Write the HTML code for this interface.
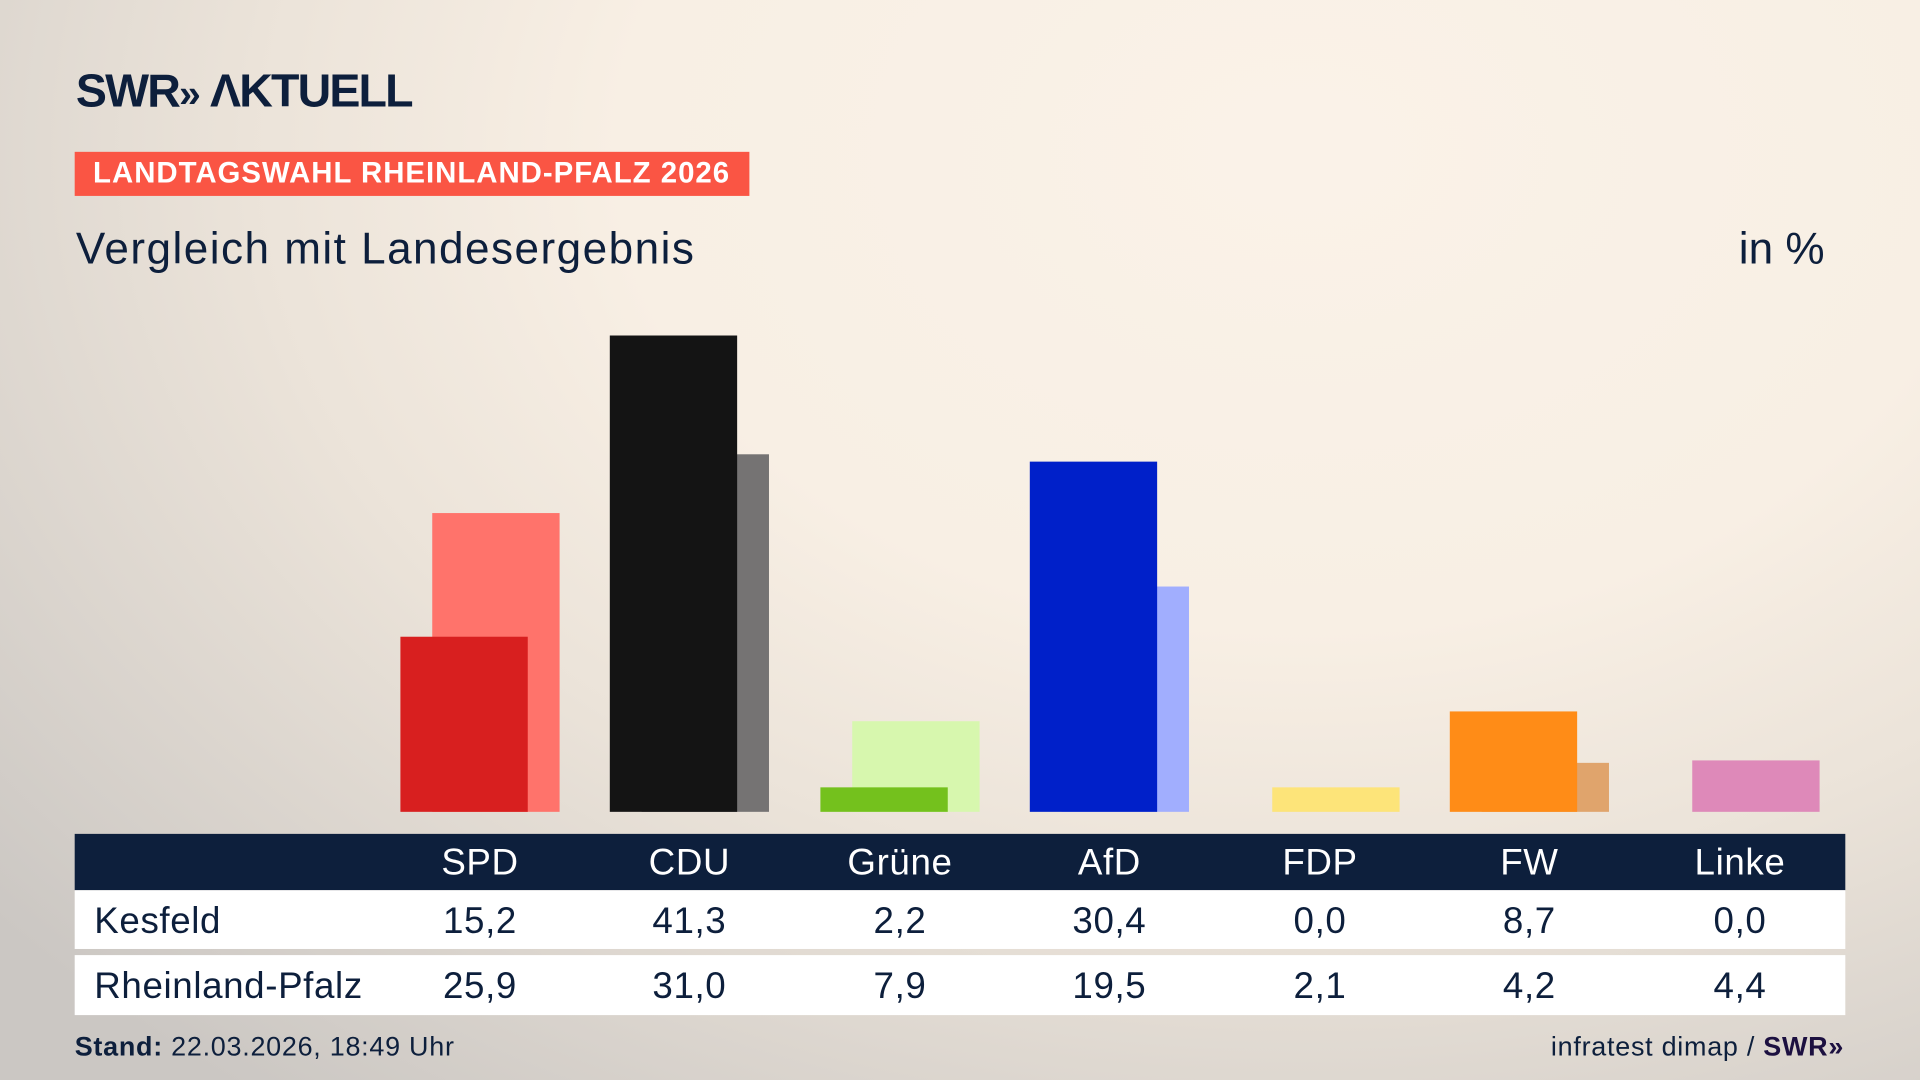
<!DOCTYPE html>
<html><head><meta charset="utf-8">
<style>
html,body{margin:0;padding:0;width:1920px;height:1080px;overflow:hidden}
body{background:#f8efe4}
#bg{position:absolute;left:0;top:0;width:1920px;height:1080px;
background:radial-gradient(ellipse 1700px 1200px at 1300px 150px,#faf2e8 0%,#f8efe4 40%,#ebe3d9 62%,#cbc7c3 100%);}
#s{position:absolute;left:0;top:0;width:1568px;height:882px;transform:scale(1.22449);transform-origin:0 0;font-family:"Liberation Sans","DejaVu Sans",sans-serif;color:#0d1f3c}
.b{position:absolute;width:104px}
.t{position:absolute}
.row{position:absolute;left:61px;width:1446px;background:#fff}
.c{position:absolute;width:140px;text-align:center;font-size:30px;margin-left:-70px;letter-spacing:0.5px}
</style></head><body>
<div id="bg"></div>
<div id="s">
<div class="t" style="left:62px;top:54px;font-size:38px;font-weight:bold;letter-spacing:-1.5px">SWR<span style="font-size:32px">»</span> ΛKTUELL</div>
<div class="t" style="left:61px;top:124px;width:551px;height:36px;background:#fa5544;color:#fff;font-weight:bold;font-size:24px;line-height:36px;text-indent:15px;letter-spacing:0.8px">LANDTAGSWAHL RHEINLAND-PFALZ 2026</div>
<div class="t" style="left:62px;top:182px;font-size:36px;letter-spacing:1.2px">Vergleich mit Landesergebnis</div>
<div class="t" style="left:1420px;top:182px;font-size:36px">in %</div>

<div class="b" style="left:353px;top:419px;height:244px;background:#ff736b"></div>
<div class="b" style="left:327px;top:520px;height:143px;background:#d81f1f"></div>
<div class="b" style="left:524px;top:371px;height:292px;background:#757373"></div>
<div class="b" style="left:498px;top:274px;height:389px;background:#141414"></div>
<div class="b" style="left:696px;top:589px;height:74px;background:#d7f7ae"></div>
<div class="b" style="left:670px;top:643px;height:20px;background:#74c11d"></div>
<div class="b" style="left:867px;top:479px;height:184px;background:#a1aefe"></div>
<div class="b" style="left:841px;top:377px;height:286px;background:#0020c9"></div>
<div class="b" style="left:1039px;top:643px;height:20px;background:#fde479"></div>
<div class="b" style="left:1210px;top:623px;height:40px;background:#e0a46c"></div>
<div class="b" style="left:1184px;top:581px;height:82px;background:#ff8c17"></div>
<div class="b" style="left:1382px;top:621px;height:42px;background:#de89b9"></div>

<div class="row" style="top:681px;height:46px;background:#0d1f3c;color:#fff">
<div class="c" style="left:331px;top:7px">SPD</div><div class="c" style="left:502px;top:7px">CDU</div><div class="c" style="left:674px;top:7px">Grüne</div><div class="c" style="left:845px;top:7px">AfD</div><div class="c" style="left:1017px;top:7px">FDP</div><div class="c" style="left:1188px;top:7px">FW</div><div class="c" style="left:1360px;top:7px">Linke</div>
</div>
<div class="row" style="top:727px;height:48px">
<div class="t" style="left:16px;top:9px;font-size:30px;letter-spacing:0.5px">Kesfeld</div>
<div class="c" style="left:331px;top:9px">15,2</div><div class="c" style="left:502px;top:9px">41,3</div><div class="c" style="left:674px;top:9px">2,2</div><div class="c" style="left:845px;top:9px">30,4</div><div class="c" style="left:1017px;top:9px">0,0</div><div class="c" style="left:1188px;top:9px">8,7</div><div class="c" style="left:1360px;top:9px">0,0</div>
</div>
<div class="row" style="top:780px;height:49px">
<div class="t" style="left:16px;top:9px;font-size:30px;letter-spacing:0.5px">Rheinland-Pfalz</div>
<div class="c" style="left:331px;top:9px">25,9</div><div class="c" style="left:502px;top:9px">31,0</div><div class="c" style="left:674px;top:9px">7,9</div><div class="c" style="left:845px;top:9px">19,5</div><div class="c" style="left:1017px;top:9px">2,1</div><div class="c" style="left:1188px;top:9px">4,2</div><div class="c" style="left:1360px;top:9px">4,4</div>
</div>
<div class="t" style="left:61px;top:842px;font-size:22px;letter-spacing:0.6px"><b>Stand:</b> 22.03.2026, 18:49 Uhr</div>
<div class="t" style="right:62px;top:842px;font-size:22px;letter-spacing:0.6px">infratest dimap / <b style="color:#1c1040">SWR»</b></div>
</div>
</body></html>
